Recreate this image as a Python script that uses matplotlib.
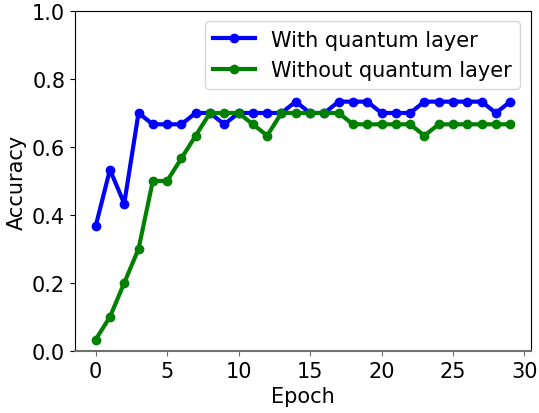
import matplotlib
matplotlib.use("Agg")
import matplotlib.pyplot as plt
import numpy as np

epochs = list(range(30))
with_q = [11, 16, 13, 21, 20, 20, 20, 21, 21, 20, 21, 21, 21, 21, 22, 21,
          21, 22, 22, 22, 21, 21, 21, 22, 22, 22, 22, 22, 21, 22]
without_q = [1, 3, 6, 9, 15, 15, 17, 19, 21, 21, 21, 20, 19, 21, 21, 21,
             21, 21, 20, 20, 20, 20, 20, 19, 20, 20, 20, 20, 20, 20]
with_q = np.array(with_q) / 30
without_q = np.array(without_q) / 30

plt.rcParams['font.size'] = 15

fig, ax = plt.subplots(figsize=(5.39, 4.14), dpi=100)
ax.plot(epochs, with_q, 'o-', color='blue', linewidth=3, markersize=6, label='With quantum layer')
ax.plot(epochs, without_q, 'o-', color='green', linewidth=3, markersize=6, label='Without quantum layer')
ax.set_ylim(0, 1)
ax.set_xlabel('Epoch')
ax.set_ylabel('Accuracy')
ax.spines['bottom'].set_color('#707070')
ax.spines['bottom'].set_linewidth(1.5)
ax.tick_params(axis='x', color='#707070')
ax.legend(loc='upper right')
fig.subplots_adjust(left=0.139, right=0.985, top=0.971, bottom=0.150)
fig.savefig('out.png')
